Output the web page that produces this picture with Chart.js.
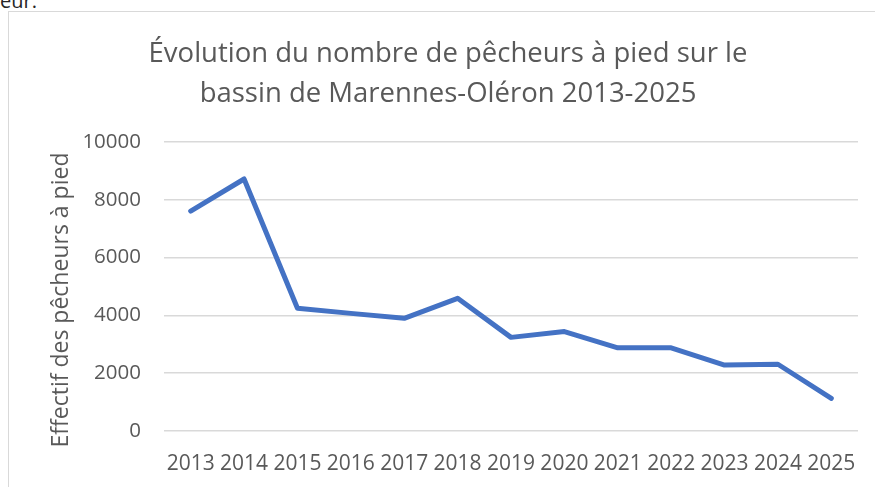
<!DOCTYPE html>
<html lang="fr">
<head>
<meta charset="utf-8">
<title>Pêcheurs à pied – Marennes-Oléron</title>
<script src="https://cdn.jsdelivr.net/npm/chart.js@4/dist/chart.umd.min.js"></script>
<style>
  html, body { margin: 0; padding: 0; background: #fff; overflow: hidden; width: 875px; height: 487px; }
  .doc-text {
    position: absolute; left: 0; top: -13px;
    font: 20px "Open Sans", sans-serif; color: #262626;
  }
  .frame {
    position: absolute; left: 8px; top: 11px; width: 900px; height: 500px;
    border-left: 1px solid #d9d9d9; border-top: 1px solid #d9d9d9;
  }
  #chart { position: absolute; left: 9px; top: 12px; }
</style>
</head>
<body>
<div class="doc-text">eur.</div>
<div class="frame"></div>
<canvas id="chart" width="866" height="475"></canvas>
<script>
const years = ['2013', '2014', '2015', '2016', '2017', '2018', '2019',
               '2020', '2021', '2022', '2023', '2024', '2025'];
const pecheurs = [7610, 8720, 4250, 4070, 3900, 4590, 3240,
                  3440, 2880, 2880, 2280, 2310, 1130];
const titleLines = ['Évolution du nombre de pêcheurs à pied sur le',
                    'bassin de Marennes-Oléron 2013-2025'];
const yAxisLabel = 'Effectif des pêcheurs à pied';

const grey = '#595959';
const font = '"Open Sans", sans-serif';

// rotated y axis label, centred on the plot plus its tick labels
const yLabelPlugin = {
  id: 'yLabel',
  afterDraw(chart) {
    const { ctx } = chart;
    ctx.save();
    ctx.translate(52, 288);
    ctx.rotate(-Math.PI / 2);
    ctx.font = '23px ' + font;
    ctx.fillStyle = grey;
    ctx.textAlign = 'center';
    ctx.textBaseline = 'middle';
    ctx.fillText(yAxisLabel, 0, 0);
    ctx.restore();
  }
};

new Chart(document.getElementById('chart'), {
  type: 'line',
  data: {
    labels: years,
    datasets: [{
      data: pecheurs,
      borderColor: '#4472C4',
      borderWidth: 5,
      borderCapStyle: 'round',
      borderJoinStyle: 'round',
      pointRadius: 0,
      tension: 0
    }]
  },
  options: {
    responsive: false,
    animation: false,
    layout: { padding: { left: 29, right: 17, top: 0, bottom: 0 } },
    plugins: {
      legend: { display: false },
      tooltip: { enabled: false },
      title: {
        display: true,
        text: titleLines,
        color: grey,
        font: { family: font, size: 27.5, weight: 'normal', lineHeight: '40px' },
        padding: { top: 22, bottom: 28 }
      }
    },
    scales: {
      x: {
        offset: true,
        grid: { display: false },
        border: { display: false },
        ticks: { color: grey, font: { family: font, size: 21 }, padding: 12, maxRotation: 0, autoSkip: false },
        afterFit(scale) { scale.height = 56; }
      },
      y: {
        min: 0,
        max: 10000,
        ticks: {
          stepSize: 2000, color: grey, font: { family: font, size: 20.5 }, padding: 23,
          callback: (v) => String(v)
        },
        grid: { color: '#d9d9d9', lineWidth: 1.5, drawTicks: false },
        border: { display: false },
        afterFit(scale) { scale.width = 126; }
      }
    }
  },
  plugins: [yLabelPlugin]
});
</script>
</body>
</html>
